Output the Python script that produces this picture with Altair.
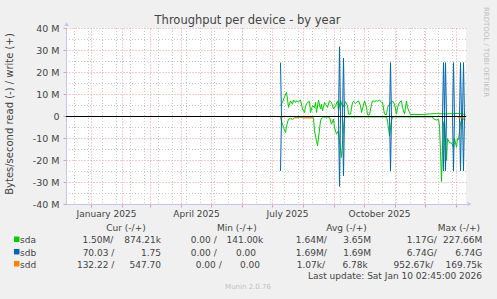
import altair as alt
import pandas as pd

# ---------------- data (values in MB/s; read is drawn below zero) ----------------
sda_write_dates = [
    "2025-07-09", "2025-07-11", "2025-07-13", "2025-07-15", "2025-07-16", "2025-07-17", "2025-07-19",
    "2025-07-21", "2025-07-22", "2025-07-24", "2025-07-25", "2025-07-27", "2025-07-29", "2025-07-31",
    "2025-08-02", "2025-08-03", "2025-08-05", "2025-08-07", "2025-08-08", "2025-08-10", "2025-08-12",
    "2025-08-13", "2025-08-14", "2025-08-16", "2025-08-18", "2025-08-19", "2025-08-20", "2025-08-22",
    "2025-08-25", "2025-08-27", "2025-08-29", "2025-08-31",
    "2025-09-02", "2025-09-04", "2025-09-05", "2025-09-07", "2025-09-09", "2025-09-11", "2025-09-12",
    "2025-09-14", "2025-09-15", "2025-09-17", "2025-09-19", "2025-09-20", "2025-09-22", "2025-09-23",
    "2025-09-25", "2025-09-27", "2025-09-28",
    "2025-10-01", "2025-10-03", "2025-10-04", "2025-10-06", "2025-10-08", "2025-10-09", "2025-10-11",
    "2025-10-13", "2025-10-14", "2025-10-16", "2025-10-18", "2025-10-19", "2025-10-21", "2025-10-23",
    "2025-10-24", "2025-10-26", "2025-10-28", "2025-10-29", "2025-10-31",
    "2025-11-02", "2025-11-03", "2025-11-05", "2025-11-07", "2025-11-08", "2025-11-10", "2025-11-12",
    "2025-11-13", "2025-11-15", "2025-11-16", "2025-11-28",
    "2025-12-05", "2025-12-12", "2025-12-20", "2025-12-28",
    "2026-01-04", "2026-01-08", "2026-01-10",
]
sda_write = [
    4.9, 6.4, 9.0, 10.9, 7.9, 4.1, 7.1, 5.6, 7.5, 6.4, 7.1, 6.7, 7.5, 3.4,
    1.8, 4.9, 6.4, 6.9, 1.8, 4.9, 4.1, 6.4, 1.8, 7.5, 3.4, 5.6, 2.6, 6.4, 4.1, 7.1, 6.4, 3.4,
    4.9, 7.1, 2.6, 7.5, 4.1, 5.6, 6.7, 4.9, 1.1, 1.1, 6.4, 6.9, 6.0, 6.4, 7.1, 4.9, 1.8,
    7.1, 4.1, 0.8, 0.8, 5.6, 7.1, 6.9, 7.1, 6.9, 7.5, 6.4, 6.4, 1.1, 0.8, 4.1, 5.6, 6.4, 7.1, 5.6,
    1.1, 4.1, 6.4, 7.1, 4.1, 1.1, 7.0, 4.1, 1.8, 0.9, 0.9,
    1.2, 1.3, 1.2, 1.3,
    1.4, 1.0, 0.87,
]
sda_read_dates = [
    "2025-07-09", "2025-07-10", "2025-07-12", "2025-07-14", "2025-07-15", "2025-07-17", "2025-07-19",
    "2025-07-21", "2025-07-23", "2025-07-25",
    "2025-08-10", "2025-08-11", "2025-08-12", "2025-08-14", "2025-08-15", "2025-08-16", "2025-08-18",
    "2025-08-19", "2025-08-21", "2025-08-27", "2025-08-29", "2025-08-31",
    "2025-09-01", "2025-09-03", "2025-09-05", "2025-09-06", "2025-09-08", "2025-09-09", "2025-09-10",
    "2025-09-11", "2025-09-12",
    "2025-10-23", "2025-10-24", "2025-10-26", "2025-10-28", "2025-10-29",
    "2025-12-08", "2025-12-09", "2025-12-12", "2025-12-14", "2025-12-15", "2025-12-16", "2025-12-17",
    "2025-12-18", "2025-12-19", "2025-12-20", "2025-12-22", "2025-12-23", "2025-12-25", "2025-12-27",
    "2025-12-29", "2025-12-30",
    "2026-01-01", "2026-01-02", "2026-01-03", "2026-01-05", "2026-01-07", "2026-01-09", "2026-01-10",
]
sda_read = [
    0.1, 2.0, 5.0, 7.3, 4.4, 1.2, 0.8, 1.4, 0.5, 0.3,
    0.3, 0.8, 6.5, 11.0, 13.3, 9.8, 2.0, 0.8, 0.3, 0.3, 3.5, 1.2,
    5.0, 8.0, 6.5, 11.0, 18.6, 12.0, 5.0, 0.8, 0.2,
    0.2, 2.0, 8.8, 2.0, 0.2,
    0.2, 1.1, 1.6, 1.3, 4.4, 16.0, 29.5, 15.0, 3.0, 2.0, 20.0, 10.0, 12.0, 12.0, 14.0, 10.0,
    14.0, 10.0, 10.5, 3.0, 0.8, 1.5, 1.5,
]
sdb_dates = [
    "2025-07-09", "2025-07-10", "2025-09-05", "2025-09-06", "2025-09-07", "2025-09-09", "2025-09-10",
    "2025-09-11", "2025-10-26", "2025-10-27", "2025-10-28", "2025-12-18", "2025-12-19", "2025-12-20",
    "2025-12-21", "2025-12-22", "2025-12-28", "2025-12-29", "2025-12-30", "2026-01-04", "2026-01-05",
    "2026-01-06", "2026-01-07", "2026-01-08", "2026-01-09", "2026-01-10",
]
sdb_write = [24.5, 0, 0, 31.7, 0, 0, 26.5, 0, 0, 24.5, 0, 0, 24.5, 0, 24.5, 0, 0, 24.5, 0, 0, 24.5, 0, 0, 24.5, 0, 0]
sdb_read = [24.7, 0, 0, 31.8, 0, 0, 27.0, 0, 0, 24.7, 0, 0, 24.7, 0, 24.7, 0, 0, 24.7, 0, 0, 24.7, 0, 0, 24.7, 0, 0]
sdd_read_dates = [
    "2025-07-09", "2025-07-11", "2025-07-12", "2025-07-22", "2025-07-23", "2025-07-27", "2025-07-28",
    "2025-07-30", "2025-07-31", "2025-08-10", "2025-08-11", "2026-01-02", "2026-01-03", "2026-01-10",
]
sdd_read = [0.6, 0.6, 0.0, 0.0, 0.6, 0.6, 0.0, 0.0, 0.65, 0.65, 0.0, 0.0, 0.6, 0.6]
sdd_write_dates = ["2025-07-09", "2026-01-10"]
sdd_write = [0.0, 0.0]

# axis / grid values
y_major = [-40, -30, -20, -10, 0, 10, 20, 30, 40]
y_minor = [-35, -25, -15, -5, 5, 15, 25, 35]
month_ticks = ["2025-01-01", "2025-02-01", "2025-03-01", "2025-04-01", "2025-05-01", "2025-06-01",
               "2025-07-01", "2025-08-01", "2025-09-01", "2025-10-01", "2025-11-01", "2025-12-01",
               "2026-01-01"]
minor_x = ["2024-12-15", "2024-12-29", "2025-01-12", "2025-01-26", "2025-02-09", "2025-02-23",
           "2025-03-09", "2025-03-23", "2025-04-06", "2025-04-20", "2025-05-04", "2025-05-18",
           "2025-06-01", "2025-06-15", "2025-06-29", "2025-07-13", "2025-07-27", "2025-08-10",
           "2025-08-24", "2025-09-07", "2025-09-21", "2025-10-05", "2025-10-19", "2025-11-02",
           "2025-11-16", "2025-11-30", "2025-12-14", "2025-12-28"]
x_domain = ["2024-12-07", "2026-01-11"]

# legend table
devices = ["sda", "sdb", "sdd"]
dev_colors = ["#00CC00", "#0066B3", "#FF8000"]
headers = ["Cur (-/+)", "Min (-/+)", "Avg (-/+)", "Max (-/+)"]
cur_read = ["1.50M/", "70.03 /", "132.22 /"]
cur_write = ["874.21k", "1.75", "547.70"]
min_read = ["0.00 /", "0.00 /", "0.00 /"]
min_write = ["141.00k", "0.00", "0.00"]
avg_read = ["1.64M/", "1.69M/", "1.07k/"]
avg_write = ["3.65M", "1.69M", "6.78k"]
max_read = ["1.17G/", "6.74G/", "952.67k/"]
max_write = ["227.66M", "6.74G", "169.75k"]
title_text = "Throughput per device - by year"
ylabel_text = "Bytes/second read (-) / write (+)"
side_text = "RRDTOOL / TOBI OETIKER"
update_text = "Last update: Sat Jan 10 02:45:00 2026"
footer_text = "Munin 2.0.76"

# ---------------- styles / layout ----------------
FONT = "DejaVu Sans"
TXT = "#444444"
MGRID = "#EE9A9A"
GRID = "#C8C8C8"
AXISC = "#C4C4F0"
W, H = 400, 176
LEG = 9


def dt(s):
    t = pd.Timestamp(s)
    return alt.DateTime(year=t.year, month=t.month, date=t.day)


x_scale = alt.Scale(domain=[dt(d) for d in x_domain], nice=False)
x_axis = alt.Axis(
    values=[dt(d) for d in month_ticks],
    labelExpr="month(datum.value) % 3 == 0 && year(datum.value) == 2025 ? timeFormat(datum.value, '%B %Y') : ''",
    labelOffset=15, labelFlush=False, labelOverlap=False, labelBound=False,
    labelFont=FONT, labelFontSize=9, labelColor=TXT, labelPadding=2,
    grid=True, gridColor=MGRID, gridDash=[1, 2], gridWidth=1,
    ticks=True, tickColor=MGRID, tickSize=3, tickWidth=1,
    domainColor=AXISC, domainWidth=1, title=None,
)
y_scale = alt.Scale(domain=[-40, 40], nice=False, zero=False)
y_axis = alt.Axis(
    values=y_major,
    labelExpr="datum.value == 0 ? '0' : datum.value + ' M'",
    labelFont=FONT, labelFontSize=9.5, labelColor=TXT, labelPadding=4,
    grid=True, gridColor=MGRID, gridDash=[1, 2], gridWidth=1,
    ticks=True, tickColor=MGRID, tickSize=3, tickWidth=1,
    domainColor=AXISC, domainWidth=1, title=None,
)


def X(field="date"):
    return alt.X(f"{field}:T", scale=x_scale, axis=x_axis, title=None)


def Y(field="v"):
    return alt.Y(f"{field}:Q", scale=y_scale, axis=y_axis, title=None)


def frame(dates, vals, sign, direction):
    return pd.DataFrame({"date": pd.to_datetime(dates), "v": [sign * v for v in vals], "dir": direction})


def series_layer(df, color):
    return alt.Chart(df).mark_line(color=color, strokeWidth=1, clip=True, xOffset=0.5, yOffset=0.5).encode(
        x=X(), y=Y(), detail="dir:N"
    )


ONE = pd.DataFrame({"k": [0]})


def txt(s, x, y, size=LEG, align="left", color=TXT, angle=0, baseline="alphabetic"):
    return alt.Chart(ONE).mark_text(
        text=s, font=FONT, fontSize=size, color=color, align=align, baseline=baseline, angle=angle
    ).encode(x=alt.value(x), y=alt.value(y))


layers = []

# minor grid
layers.append(alt.Chart(pd.DataFrame({"v": y_minor}))
              .mark_rule(color=GRID, strokeDash=[1, 2], strokeWidth=1, yOffset=0.5)
              .encode(y=Y()))
layers.append(alt.Chart(pd.DataFrame({"date": pd.to_datetime(minor_x)}))
              .mark_rule(color=GRID, strokeDash=[1, 2], strokeWidth=1, xOffset=0.5)
              .encode(x=X()))

# data series (sda, sdb, sdd drawn in that order)
sda_df = pd.concat([frame(sda_write_dates, sda_write, 1, "write"), frame(sda_read_dates, sda_read, -1, "read")])
sdb_df = pd.concat([frame(sdb_dates, sdb_write, 1, "write"), frame(sdb_dates, sdb_read, -1, "read")])
sdd_df = pd.concat([frame(sdd_write_dates, sdd_write, 1, "write"), frame(sdd_read_dates, sdd_read, -1, "read")])
layers.append(series_layer(sda_df, dev_colors[0]))
layers.append(series_layer(sdb_df, dev_colors[1]))
layers.append(series_layer(sdd_df, dev_colors[2]))

# zero line
layers.append(alt.Chart(pd.DataFrame({"v": [0]})).mark_rule(color="#000000", strokeWidth=1, yOffset=0.5)
              .encode(y=Y()))

# axis arrows
layers.append(alt.Chart(ONE).mark_point(shape="triangle-up", filled=True, color=AXISC, size=22, opacity=1)
              .encode(x=alt.value(0.5), y=alt.value(-4)))
layers.append(alt.Chart(ONE).mark_point(shape="triangle-right", filled=True, color=AXISC, size=22, opacity=1)
              .encode(x=alt.value(W + 3.5), y=alt.value(H)))

# titles
layers.append(txt(title_text, 181.5, -4, size=11.5, align="center"))
layers.append(txt(ylabel_text, -56, 86, size=10, align="center", angle=270, baseline="middle"))
layers.append(txt(side_text, 420, 24, size=7, align="center", color="#BDBDBD", angle=90, baseline="middle"))

# legend (right edges of each cell, relative to the plot origin)
header_right = [79.7, 190.7, 300.7, 414]
header_y = 203
for h, xr in zip(headers, header_right):
    layers.append(txt(h, xr, header_y, align="right"))

row_y = [215.3, 227.7, 239.7]
cell_right = [
    [47.3, 95, 150.7, 197.3, 260.7, 305, 370.7, 416.3],
    [48.3, 95, 150.7, 190, 260.7, 305, 370.7, 416.3],
    [48.3, 95, 155.7, 194, 259, 301.7, 367.3, 416.3],
]
columns = [cur_read, cur_write, min_read, min_write, avg_read, avg_write, max_read, max_write]
for i, dev in enumerate(devices):
    layers.append(alt.Chart(ONE).mark_square(size=30, filled=True, color=dev_colors[i], opacity=1)
                  .encode(x=alt.value(-49.3), y=alt.value(row_y[i] - 4)))
    layers.append(txt(dev, -46, row_y[i]))
    for col, xr in zip(columns, cell_right[i]):
        layers.append(txt(col[i], xr, row_y[i], align="right"))

layers.append(txt(update_text, 416, 251, align="right"))
layers.append(txt(footer_text, 182, 261, size=7, align="center", color="#C0C0C0"))

chart = alt.layer(*layers).properties(
    width=W, height=H,
    padding={"left": 66, "top": 28, "right": 31, "bottom": 95},
    autosize=alt.AutoSizeParams(type="none"),
    background="#F0F0F0",
).configure_view(fill="white", stroke=None)

chart.save("out.html", embed_options={"renderer": "svg", "actions": False})
